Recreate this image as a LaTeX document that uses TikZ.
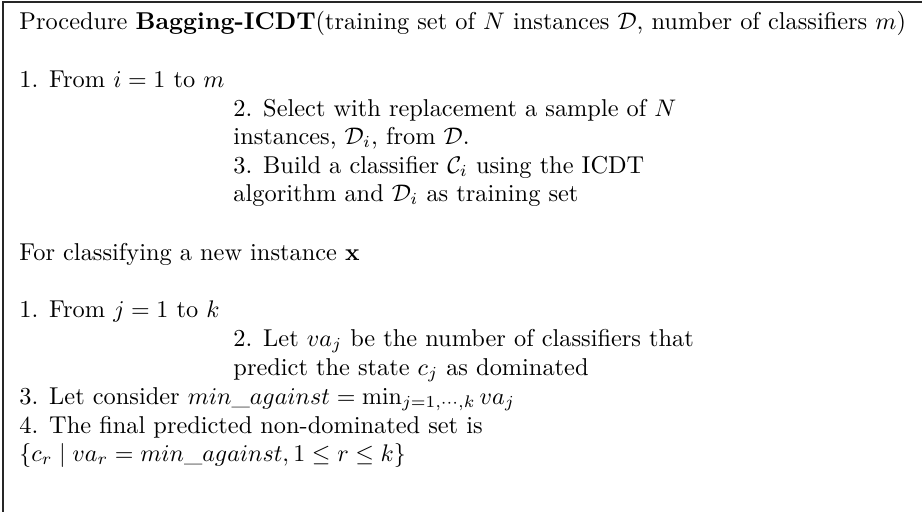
\documentclass[tikz,border=0pt]{standalone}
\begin{document}
% Bagging-ICDT procedure, laid out line by line inside a framed box
\begin{tikzpicture}[x=0.41667pt, y=-0.41667pt,
  txt/.style={anchor=base west, inner sep=0pt, font=\fontsize{10.15}{12}\selectfont},
  frame/.style={line width=0.45pt, black!85}]
  \useasboundingbox (0,0) rectangle (922,512);
  % frame (top and left edges)
  \coordinate (ftl) at (3,2);
  \coordinate (ftr) at (922,2);
  \coordinate (fbl) at (3,512);
  \draw[frame] (ftr) -- (ftl) -- (fbl);
  % training part
  \node[txt] (head) at (19,29) {Procedure \textbf{Bagging-ICDT}(training set of $N$ instances $\mathcal{D}$, number of classifiers $m$)};
  \node[txt] (loopi) at (19,87) {1. From $i=1$ to $m$};
  \node[txt] (sel1) at (233,116) {2. Select with replacement a sample of $N$};
  \node[txt] (sel2) at (233,144) {instances, $\mathcal{D}_i$, from $\mathcal{D}$.};
  \node[txt] (bld1) at (233,173) {3. Build a classifier $\mathcal{C}_i$ using the ICDT};
  \node[txt] (bld2) at (233,201) {algorithm and $\mathcal{D}_i$ as training set};
  % classification part
  \node[txt] (cls) at (19,260) {For classifying a new instance $\mathbf{x}$};
  \node[txt] (loopj) at (19,317) {1. From $j=1$ to $k$};
  \node[txt] (let1) at (233,346) {2. Let $va_j$ be the number of classifiers that};
  \node[txt] (let2) at (233,375) {predict the state $c_j$ as dominated};
  \node[txt] (cons) at (19,404) {3. Let consider $min\_against = \min_{j=1,\cdots,k} va_j$};
  \node[txt] (fin1) at (19,433) {4. The final predicted non-dominated set is};
  \node[txt] (fin2) at (19,461) {$\{c_r \mid va_r = min\_against, 1 \leq r \leq k\}$};
\end{tikzpicture}
\end{document}
